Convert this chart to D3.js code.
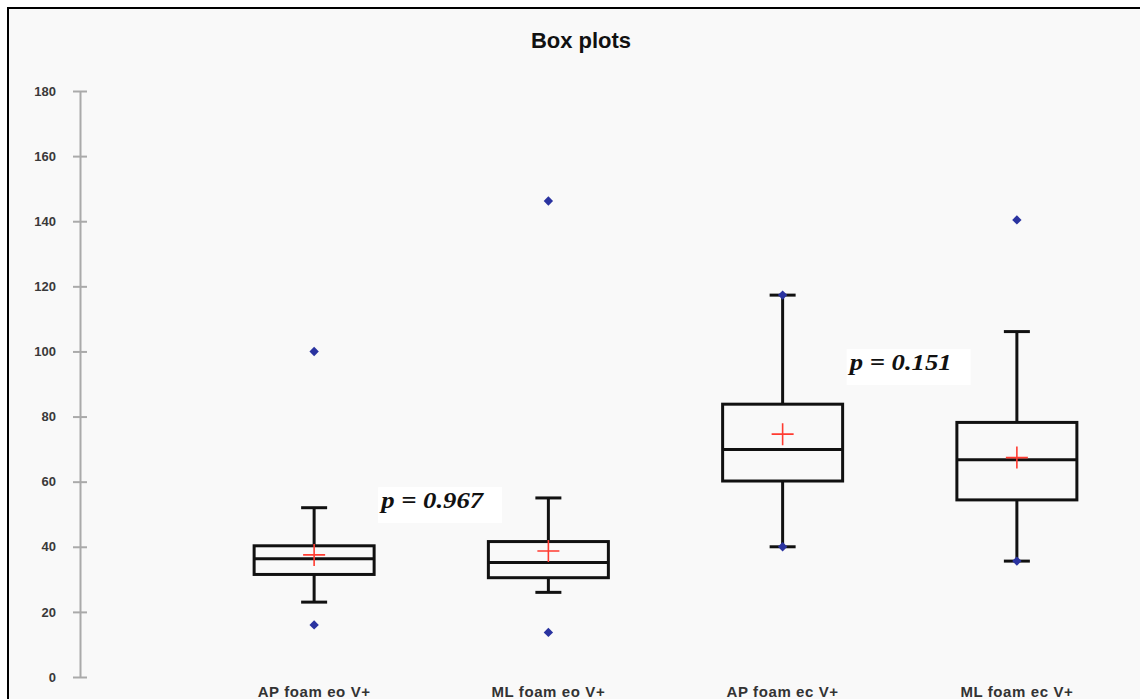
<!DOCTYPE html>
<html>
<head>
<meta charset="utf-8">
<script src="https://cdn.jsdelivr.net/npm/d3@7"></script>
<style>
  html, body { margin: 0; padding: 0; background: #ffffff; }
  svg { display: block; }
</style>
</head>
<body>
<svg id="chart" width="1140" height="699"></svg>
<script>
// ---- Data ----
const categories = ["AP foam eo V+", "ML foam eo V+", "AP foam ec V+", "ML foam ec V+"];
const minVals     = [16,   13.7, 40,    35.6];
const whiskerLow  = [23,   26,   40,    35.6];
const q1Vals      = [31.5, 30.5, 60.2,  54.4];
const medianVals  = [36.3, 35.2, 69.9,  66.7];
const q3Vals      = [40.3, 41.6, 83.8,  78.2];
const whiskerHigh = [52,   55,   117.3, 106.1];
const maxVals     = [100,  146.2, 117.3, 140.4];
const meanVals    = [37.5, 38.7, 74.6,  67.4];
const yTicks      = [0, 20, 40, 60, 80, 100, 120, 140, 160, 180];
const pLabels     = ["p = 0.967", "p = 0.151"];
const pAnchorCat  = [0, 2];        // label sits to the right of this category
const pValueY     = [51.9, 94.3];  // baseline position in data units

const svg = d3.select("#chart");

// frame
svg.append("rect").attr("x", 8).attr("y", 8).attr("width", 1140).attr("height", 699)
  .attr("fill", "#f9f9f9").attr("stroke", "#000").attr("stroke-width", 2);

const y = d3.scaleLinear().domain([0, 180]).range([677, 91]);
const x = d3.scaleBand().domain(categories).range([197, 1134]).padding(0);
const cx = c => x(c) + x.bandwidth() / 2;
const boxW = 120, capW = 26;

// title
svg.append("text").attr("x", 581).attr("y", 48).attr("text-anchor", "middle")
  .attr("font-family", "Arial, 'Liberation Sans', sans-serif").attr("font-weight", "bold")
  .attr("font-size", 22).attr("fill", "#111").text("Box plots");

// y axis
const yAxis = d3.axisLeft(y).tickValues(yTicks).tickSizeOuter(0).tickSizeInner(7).tickPadding(17);
const gy = svg.append("g").attr("transform", "translate(80,0)").call(yAxis);
gy.select(".domain").attr("stroke", "#aaa").attr("stroke-width", 2);
gy.selectAll(".tick line").attr("x1", -7).attr("x2", 7).attr("stroke", "#aaa").attr("stroke-width", 2);
gy.selectAll(".tick text").attr("x", -24)
  .attr("font-family", "Arial, 'Liberation Sans', sans-serif").attr("font-weight", "bold")
  .attr("font-size", 13).attr("fill", "#3a3a3a");

// x labels
svg.append("g").selectAll("text").data(categories).join("text")
  .attr("x", d => cx(d)).attr("y", 697).attr("text-anchor", "middle")
  .attr("font-family", "Arial, 'Liberation Sans', sans-serif").attr("font-weight", "bold")
  .attr("font-size", 15).attr("letter-spacing", 0.6).attr("fill", "#333").text(d => d);

// boxes
const g = svg.append("g").attr("stroke", "#111").attr("stroke-width", 3).attr("fill", "none");
categories.forEach((c, i) => {
  const xc = cx(c);
  // whiskers
  g.append("line").attr("x1", xc).attr("x2", xc).attr("y1", y(q3Vals[i])).attr("y2", y(whiskerHigh[i]));
  g.append("line").attr("x1", xc).attr("x2", xc).attr("y1", y(q1Vals[i])).attr("y2", y(whiskerLow[i]));
  g.append("line").attr("x1", xc - capW / 2).attr("x2", xc + capW / 2).attr("y1", y(whiskerHigh[i])).attr("y2", y(whiskerHigh[i]));
  g.append("line").attr("x1", xc - capW / 2).attr("x2", xc + capW / 2).attr("y1", y(whiskerLow[i])).attr("y2", y(whiskerLow[i]));
  // box
  g.append("rect").attr("x", xc - boxW / 2).attr("y", y(q3Vals[i]))
    .attr("width", boxW).attr("height", y(q1Vals[i]) - y(q3Vals[i]));
  g.append("line").attr("x1", xc - boxW / 2).attr("x2", xc + boxW / 2).attr("y1", y(medianVals[i])).attr("y2", y(medianVals[i]));
});

// min / max points
const pts = [];
categories.forEach((c, i) => { pts.push([c, minVals[i]]); pts.push([c, maxVals[i]]); });
svg.append("g").selectAll("path").data(pts).join("path")
  .attr("d", d3.symbol(d3.symbolSquare, 44))
  .attr("transform", d => `translate(${cx(d[0])},${y(d[1])}) rotate(45)`)
  .attr("fill", "#2a33a0");

// mean crosses
svg.append("g").selectAll("path").data(categories).join("path")
  .attr("d", (c, i) => {
    const xc = cx(c), yc = y(meanVals[i]);
    return `M${xc - 11},${yc}H${xc + 11}M${xc},${yc - 11}V${yc + 11}`;
  })
  .attr("stroke", "#ff3b30").attr("stroke-width", 1.6).attr("fill", "none");

// p-value annotations
pLabels.forEach((t, i) => {
  const x0 = cx(categories[pAnchorCat[i]]) + 67;
  const yb = y(pValueY[i]);
  svg.append("rect").attr("x", x0 - 3).attr("y", yb - 21).attr("width", 124).attr("height", 36).attr("fill", "#ffffff");
  svg.append("text").attr("x", x0).attr("y", yb)
    .attr("font-family", "'Liberation Serif', 'Times New Roman', serif")
    .attr("font-weight", "bold").attr("font-style", "italic").attr("font-size", 23)
    .attr("textLength", 102).attr("lengthAdjust", "spacingAndGlyphs")
    .attr("fill", "#111").text(t);
});
</script>
</body>
</html>
